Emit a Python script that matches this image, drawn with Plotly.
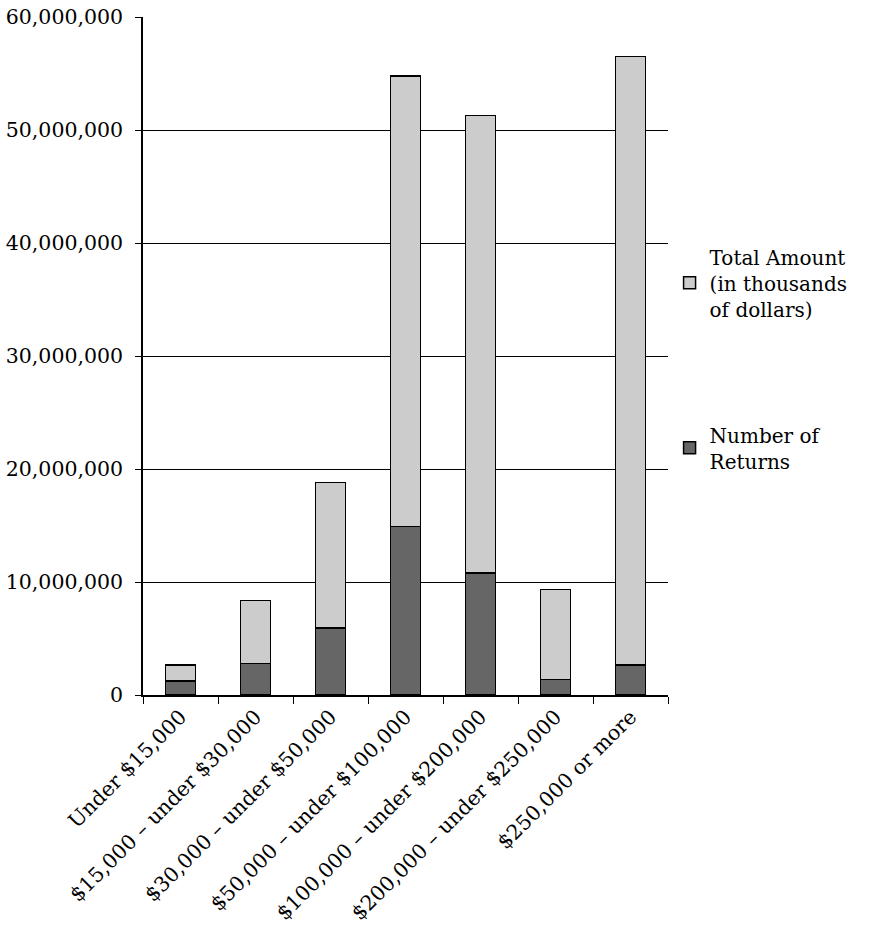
import plotly.graph_objects as go

categories = ["Under $15,000", "$15,000 – under $30,000", "$30,000 – under $50,000",
              "$50,000 – under $100,000", "$100,000 – under $200,000",
              "$200,000 – under $250,000", "$250,000 or more"]
number_of_returns = [1220000, 2790000, 5950000, 14900000, 10800000, 1370000, 2660000]
bar_totals = [2660000, 8380000, 18800000, 54800000, 51300000, 9320000, 56500000]
total_amount = [t - n for t, n in zip(bar_totals, number_of_returns)]

FONT = "DejaVu Serif"

fig = go.Figure()
fig.add_trace(go.Bar(x=categories, y=number_of_returns, name="Number of<br>Returns",
                     marker=dict(color="#666666", line=dict(color="#000000", width=1.5)),
                     legendgroup="b", legendrank=2))
fig.add_trace(go.Bar(x=categories, y=total_amount,
                     name="Total Amount<br>(in thousands<br>of dollars)",
                     marker=dict(color="#cccccc", line=dict(color="#000000", width=1.5)),
                     legendgroup="a", legendrank=1))

fig.update_layout(
    barmode="stack", bargap=0.6,
    width=870, height=935,
    margin=dict(l=143, r=202, t=17, b=240, autoexpand=False),
    plot_bgcolor="white", paper_bgcolor="white",
    font=dict(family=FONT, size=20.5, color="#000000"),
    legend=dict(x=1.003, xanchor="left", y=0.675, yanchor="top", xref="paper",
                traceorder="grouped", tracegroupgap=97,
                font=dict(family=FONT, size=20), itemwidth=30,
                bgcolor="rgba(0,0,0,0)"),
)
fig.update_yaxes(range=[0, 60000000], dtick=10000000, tickformat=",d",
                 showgrid=True, gridcolor="#000000", gridwidth=1,
                 showline=True, linecolor="#000000", linewidth=1.5,
                 ticks="outside", ticklen=6, tickcolor="#000000",
                 ticklabelstandoff=8, zeroline=False,
                 tickfont=dict(family=FONT, size=20.5))
fig.update_xaxes(tickangle=-45, showline=True, linecolor="#000000", linewidth=1.5,
                 ticks="outside", ticklen=7, tickcolor="#000000",
                 tickson="boundaries", showgrid=False,
                 tickfont=dict(family=FONT, size=20.5))

fig.write_html("out.html")
